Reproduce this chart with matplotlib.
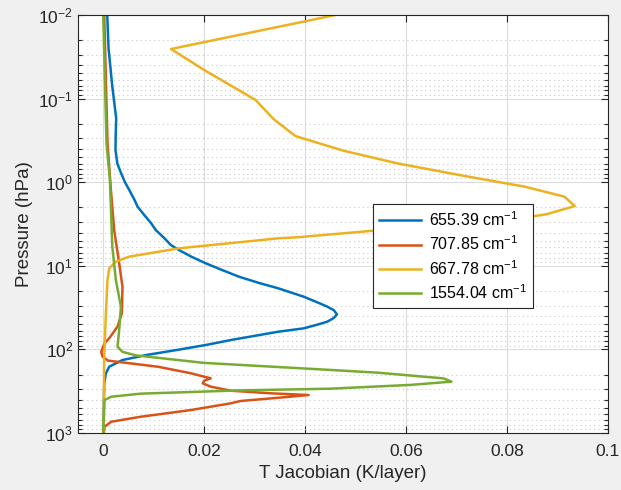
import numpy as np
import matplotlib
matplotlib.use("Agg")
import matplotlib.pyplot as plt
from matplotlib.ticker import LogLocator, NullLocator, NullFormatter, FixedLocator

plt.rcParams['font.family'] = ['Liberation Sans', 'DejaVu Sans']
plt.rcParams['mathtext.fontset'] = 'custom'
plt.rcParams['mathtext.rm'] = 'Liberation Sans'

# jacobian values (K/layer) and the pressure (hPa) they sit at
jac_655 = [0.00079, 0.00105, 0.0018, 0.00257, 0.00247, 0.00243, 0.0028, 0.00355, 0.0043,
           0.005, 0.0062, 0.0068, 0.0082, 0.0095, 0.0104, 0.0120, 0.0134, 0.0150,
           0.0175, 0.0203, 0.0235, 0.0269, 0.0308, 0.0347, 0.0397, 0.0422, 0.0444,
           0.0457, 0.0463, 0.0457, 0.0444, 0.0422, 0.0397, 0.0347, 0.0253, 0.0203,
           0.0144, 0.00843, 0.00381, 0.00118, 0.00053, 0.0002, 0.0]
p_655 = [0.01, 0.025, 0.072, 0.172, 0.272, 0.412, 0.6, 0.783, 1.0,
         1.19, 1.63, 1.96, 2.5, 3.1, 3.73, 4.6, 5.64, 6.47,
         7.8, 9.33, 11.2, 13.5, 16.0, 18.6, 23.4, 27.0, 30.8,
         34.0, 38.0, 42.0, 46.6, 51.0, 56.0, 61.4, 77.2, 88.6,
         102, 117, 134, 161, 193, 254, 1000]

jac_707 = [0.0002, 0.00085, 0.00152, 0.00217, 0.00316, 0.00381, 0.00369, 0.00282, 0.00118,
           0.00026, -0.0004, -0.00014, 0.00093, 0.0042, 0.0108, 0.01737, 0.0213, 0.0200,
           0.0197, 0.0213, 0.0253, 0.0332, 0.0407, 0.0371, 0.0272, 0.0253, 0.01737,
           0.0075, 0.00158, 0.00026, 0.00014]
p_707 = [0.01, 0.343, 1.24, 3.73, 9.33, 17.8, 37.0, 53.5, 73.6,
         84.5, 107, 122, 136, 144, 161, 193, 222, 237,
         254, 279, 312, 335, 351, 368, 414, 441, 531,
         638, 733, 841, 1000]

jac_667 = [0.0460, 0.0397, 0.01343, 0.0200, 0.0302, 0.0338, 0.0381, 0.0476, 0.0582,
           0.0713, 0.0835, 0.0914, 0.0934, 0.0878, 0.0845, 0.0536, 0.0384, 0.0347,
           0.0150, 0.0051, 0.0025, 0.0012, 0.00085, 0.00053, 0.0002, 0.00006]
p_667 = [0.01, 0.012, 0.0255, 0.0455, 0.104, 0.177, 0.281, 0.420, 0.594,
         0.836, 1.13, 1.49, 1.93, 2.42, 2.59, 3.80, 4.56, 4.69,
         6.18, 7.78, 8.93, 10.7, 14.8, 36.7, 122, 1000]

jac_1554 = [0.0, 0.00065, 0.00132, 0.0018, 0.0025, 0.0035, 0.00316, 0.00282, 0.00381,
            0.0065, 0.0200, 0.045, 0.0545, 0.0674, 0.0690, 0.0608, 0.045, 0.0272,
            0.0075, 0.00158, 0.00026, 0.0]
p_1554 = [0.01, 0.343, 0.94, 5.91, 14.8, 30.8, 58.6, 92.9, 107,
          118, 145, 176, 190, 222, 243, 266, 295, 309,
          338, 368, 403, 1000]

labels = ['655.39 cm$^{-1}$', '707.85 cm$^{-1}$', '667.78 cm$^{-1}$', '1554.04 cm$^{-1}$']
colors = ['#0072BD', '#D95319', '#EDB120', '#77AC30']

fig = plt.figure(figsize=(6.21, 4.9), dpi=100, facecolor='#f0f0f0')
ax = fig.add_axes([0.1256, 0.1163, 0.8534, 0.8531])

series = [(jac_655, p_655), (jac_707, p_707), (jac_667, p_667), (jac_1554, p_1554)]
for (x, p), lab, c in zip(series, labels, colors):
    ax.plot(x, p, color=c, lw=1.8, label=lab, solid_joinstyle='round')

ax.set_yscale('log')
ax.set_ylim(1000, 0.01)
ax.set_xlim(-0.005, 0.1)
ax.xaxis.set_major_locator(FixedLocator([0, 0.02, 0.04, 0.06, 0.08, 0.1]))
ax.set_xticklabels(['0', '0.02', '0.04', '0.06', '0.08', '0.1'])
ax.xaxis.set_minor_locator(NullLocator())
ax.yaxis.set_major_locator(LogLocator(base=10, numticks=10))
ax.yaxis.set_minor_locator(LogLocator(base=10, subs=np.arange(2, 10), numticks=10))
ax.yaxis.set_minor_formatter(NullFormatter())

ax.grid(True, which='major', color='#dcdcdc', lw=0.8, ls='-')
ax.grid(True, which='minor', axis='y', color='#c8c8c8', lw=0.8, ls=(0, (1, 3)))
ax.set_axisbelow(True)

for s in ax.spines.values():
    s.set_color('#262626')
    s.set_linewidth(0.8)
ax.tick_params(which='both', direction='in', top=True, right=True, colors='#262626',
               labelsize=12.5, width=0.8)
ax.tick_params(which='major', length=5)
ax.tick_params(which='minor', length=3)
ax.tick_params(axis='x', pad=8)

ax.set_xlabel('T Jacobian (K/layer)', fontsize=13.5, color='#262626')
ax.set_ylabel('Pressure (hPa)', fontsize=13.5, color='#262626')

leg = ax.legend(loc='upper left', bbox_to_anchor=(0.5566, 0.548), fontsize=11.5,
                fancybox=False, framealpha=1, edgecolor='#262626', handlelength=2.6,
                borderpad=0.4, labelspacing=0.35, handletextpad=0.5, borderaxespad=0)
leg.get_frame().set_linewidth(0.8)

fig.savefig('out.png', dpi=100, facecolor=fig.get_facecolor())
